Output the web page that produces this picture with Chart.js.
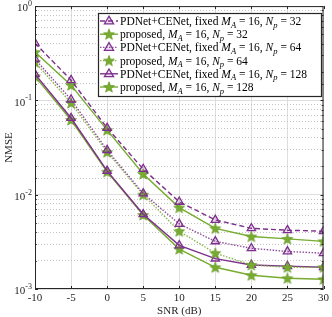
<!DOCTYPE html>
<html><head><meta charset="utf-8">
<script src="https://cdn.jsdelivr.net/npm/chart.js@4.4.0/dist/chart.umd.min.js"></script>
<style>html,body{margin:0;padding:0;background:#fff}</style>
</head><body>
<canvas id="c" width="332" height="317"></canvas>
<script>
// SNR points (dB) and NMSE values
const snr = [-10, -5, 0, 5, 10, 15, 20, 25, 30];
const pdnet32 = [0.405, 0.164, 0.051, 0.0187, 0.0084, 0.0054, 0.0044, 0.0042, 0.0041];
const prop32 = [0.325, 0.145, 0.0484, 0.0166, 0.0073, 0.0044, 0.0036, 0.0034, 0.0032];
const pdnet64 = [0.274, 0.102, 0.0297, 0.0103, 0.0049, 0.0032, 0.0027, 0.0025, 0.0024];
const prop64 = [0.255, 0.094, 0.0283, 0.0100, 0.0041, 0.0024, 0.0018, 0.0017, 0.0017];
const pdnet128 = [0.19, 0.065, 0.0179, 0.0062, 0.0029, 0.0021, 0.0018, 0.00175, 0.0017];
const prop128 = [0.18, 0.062, 0.0175, 0.0061, 0.00265, 0.0017, 0.0014, 0.0013, 0.00127];
const yDecades = [1, 0.1, 0.01, 0.001];
const yExponents = ['0', '-1', '-2', '-3'];

const PURPLE = '#7E2F8E';
const GREEN = '#77AC30';
const AXIS = '#262626';
const FONT = '"Liberation Serif", "DejaVu Serif", serif';

// filled five-point star used as marker
function makeStar(r) {
    const cv = document.createElement('canvas');
    const s = Math.ceil(r * 2 + 2);
    cv.width = s; cv.height = s;
    const g = cv.getContext('2d');
    starPath(g, s / 2, s / 2 + 0.5, r);
    g.fillStyle = GREEN;
    g.fill();
    g.strokeStyle = '#6a9a2a';
    g.lineWidth = 0.8;
    g.stroke();
    return cv;
}
function starPath(g, cx, cy, r) {
    g.beginPath();
    for (let i = 0; i < 10; i++) {
        const rr = i % 2 === 0 ? r : r * 0.42;
        const a = -Math.PI / 2 + i * Math.PI / 5;
        const x = cx + rr * Math.cos(a), y = cy + rr * Math.sin(a);
        if (i === 0) g.moveTo(x, y); else g.lineTo(x, y);
    }
    g.closePath();
}
const starImg = makeStar(5.7);

const series = [
    { name: 'PDNet+CENet, fixed ', np: '32', data: pdnet32, color: PURPLE, dash: [5, 3], marker: 'tri' },
    { name: 'proposed, ', np: '32', data: prop32, color: GREEN, dash: [], marker: 'star' },
    { name: 'PDNet+CENet, fixed ', np: '64', data: pdnet64, color: 'rgba(126,47,142,0.85)', dash: [1.5, 1.5], marker: 'tri' },
    { name: 'proposed, ', np: '64', data: prop64, color: 'rgba(119,172,48,0.85)', dash: [1.5, 1.5], marker: 'star' },
    { name: 'PDNet+CENet, fixed ', np: '128', data: pdnet128, color: PURPLE, dash: [], marker: 'tri' },
    { name: 'proposed, ', np: '128', data: prop128, color: GREEN, dash: [], marker: 'star' }
];

function isDecade(v) {
    const l = Math.log10(v);
    return Math.abs(l - Math.round(l)) < 1e-6;
}

// frame, inward ticks, y labels, axis titles and legend
const decor = {
    id: 'decor',
    afterDraw(chart) {
        const c = chart.ctx, a = chart.chartArea;
        const xs = chart.scales.x, ys = chart.scales.y;
        c.save();
        c.strokeStyle = AXIS;
        c.lineWidth = 1;
        c.strokeRect(a.left + 0.5, a.top + 0.5, a.right - a.left - 1, a.bottom - a.top - 1);
        c.beginPath();
        for (const v of snr) {
            const x = Math.round(xs.getPixelForValue(v)) + 0.5;
            c.moveTo(x, a.bottom); c.lineTo(x, a.bottom - 3);
            c.moveTo(x, a.top); c.lineTo(x, a.top + 3);
        }
        for (const t of ys.ticks) {
            const y = Math.round(ys.getPixelForValue(t.value)) + 0.5;
            const len = isDecade(t.value) ? 3 : 1.8;
            c.moveTo(a.left, y); c.lineTo(a.left + len, y);
            c.moveTo(a.right, y); c.lineTo(a.right - len, y);
        }
        c.stroke();

        // y tick labels 10^n
        c.fillStyle = AXIS;
        c.textBaseline = 'middle';
        yDecades.forEach((v, i) => {
            const y = ys.getPixelForValue(v);
            c.font = '8px ' + FONT;
            c.textAlign = 'right';
            const ew = c.measureText(yExponents[i]).width;
            c.fillText(yExponents[i], a.left - 3, y - 2);
            c.font = '11px ' + FONT;
            c.fillText('10', a.left - 3 - ew, y + 2.5);
        });

        // axis titles
        c.font = '11px ' + FONT;
        c.textAlign = 'center';
        c.fillText('SNR (dB)', (a.left + a.right) / 2, 311);
        c.save();
        c.translate(9, (a.top + a.bottom) / 2);
        c.rotate(-Math.PI / 2);
        c.fillText('NMSE', 0, 0);
        c.restore();

        // legend
        const lx = 98, ly = 13, lw = 223, lh = 83;
        c.fillStyle = '#fff';
        c.fillRect(lx, ly, lw, lh);
        c.strokeStyle = AXIS;
        c.lineWidth = 1.2;
        c.strokeRect(lx + 0.5, ly + 0.5, lw, lh);
        series.forEach((s, i) => {
            const y = ly + 8 + i * 13.2;
            c.strokeStyle = s.color;
            c.lineWidth = 1.4;
            c.setLineDash(s.dash);
            c.beginPath(); c.moveTo(lx + 2, y); c.lineTo(lx + 20, y); c.stroke();
            c.setLineDash([]);
            if (s.marker === 'star') {
                c.drawImage(starImg, lx + 11 - starImg.width / 2, y - starImg.height / 2);
            } else {
                drawTri(c, lx + 11, y);
            }
            let x = lx + 22;
            c.fillStyle = '#000';
            c.textAlign = 'left';
            c.textBaseline = 'alphabetic';
            const base = y + 4;
            const parts = [
                [s.name, '11.5px ' + FONT, 0],
                ['M', 'italic 11.5px ' + FONT, 0],
                ['A', 'italic 8.5px ' + FONT, 2.5],
                [' = 16, ', '11.5px ' + FONT, 0],
                ['N', 'italic 11.5px ' + FONT, 0],
                ['p', 'italic 8.5px ' + FONT, 2.5],
                [' = ' + s.np, '11.5px ' + FONT, 0]
            ];
            for (const p of parts) {
                c.font = p[1];
                c.fillText(p[0], x, base + p[2]);
                x += c.measureText(p[0]).width;
            }
        });
        c.restore();
    }
};

function drawTri(c, x, y) {
    const r = 4.8;
    c.beginPath();
    c.moveTo(x, y - r);
    c.lineTo(x + r * 0.95, y + r * 0.6);
    c.lineTo(x - r * 0.95, y + r * 0.6);
    c.closePath();
    c.fillStyle = 'rgba(126,47,142,0.15)';
    c.fill();
    c.strokeStyle = PURPLE;
    c.lineWidth = 1.3;
    c.stroke();
}

new Chart(document.getElementById('c'), {
    type: 'line',
    data: {
        labels: snr,
        datasets: series.map(s => ({
            label: s.name + s.np,
            data: s.data.map((v, i) => ({ x: snr[i], y: v })),
            borderColor: s.color,
            borderWidth: 1.4,
            borderDash: s.dash,
            pointStyle: s.marker === 'star' ? starImg : 'triangle',
            pointRadius: 4.8,
            pointBorderColor: PURPLE,
            pointBackgroundColor: 'rgba(126,47,142,0.15)',
            pointBorderWidth: 1.3,
            tension: 0,
            fill: false
        }))
    },
    plugins: [decor],
    options: {
        responsive: false,
        animation: false,
        layout: { padding: { top: 6, right: 6, left: 0, bottom: 0 } },
        plugins: {
            legend: { display: false },
            tooltip: { enabled: false }
        },
        scales: {
            x: {
                type: 'linear',
                min: -10, max: 30,
                afterFit: s => { s.height = 28; },
                ticks: {
                    stepSize: 5,
                    padding: 3,
                    color: AXIS,
                    font: { family: FONT, size: 11 },
                    callback: v => String(v)
                },
                grid: { color: '#dedede', drawTicks: false },
                border: { display: false }
            },
            y: {
                type: 'logarithmic',
                min: 0.001, max: 1,
                afterFit: s => { s.width = 35; },
                ticks: { display: false },
                grid: {
                    drawTicks: false,
                    color: ctx => (ctx.tick && !isDecade(ctx.tick.value)) ? '#c4c4c4' : '#dedede'
                },
                border: {
                    display: false,
                    dash: ctx => (ctx.tick && !isDecade(ctx.tick.value)) ? [1, 2] : []
                }
            }
        }
    }
});
</script>
</body></html>
